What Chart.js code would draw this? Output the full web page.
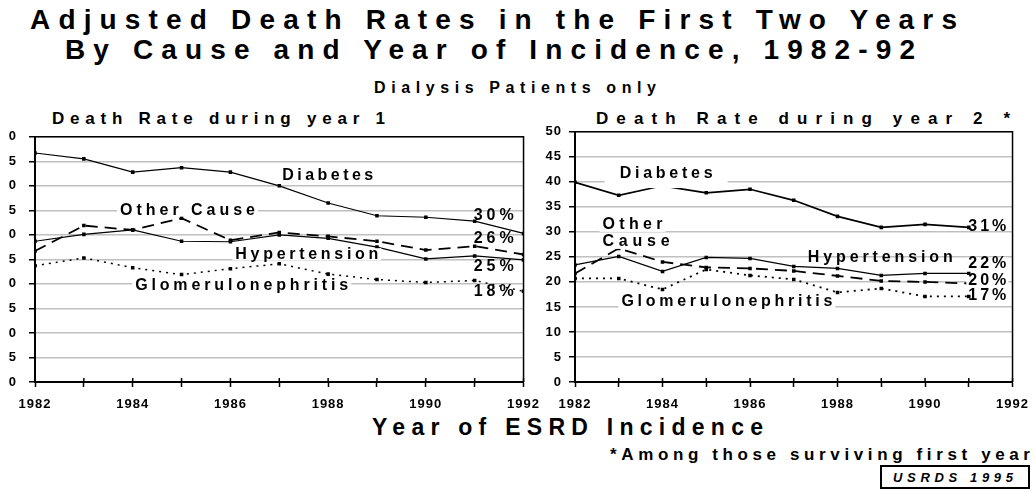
<!DOCTYPE html>
<html>
<head>
<meta charset="utf-8">
<script src="https://cdn.jsdelivr.net/npm/chart.js@4.4.1/dist/chart.umd.min.js"></script>
<style>
  body { margin: 0; width: 1035px; height: 491px; background: #fff; position: relative; overflow: hidden;
         font-family: "Liberation Sans", Arial, sans-serif; font-weight: bold; color: #000; }
  .t { position: absolute; white-space: nowrap; line-height: 1; }
  .cv { position: absolute; }
  #src { position: absolute; left: 880px; top: 465px; width: 146px; height: 20px; border: 2px solid #000; }
</style>
</head>
<body>
<div class="t" data-l="30" data-r="957" style="top:6px;font-size:28px">Adjusted Death Rates in the First Two Years</div>
<div class="t" data-l="65" data-r="915" style="top:36px;font-size:28px">By Cause and Year of Incidence, 1982-92</div>
<div class="t" data-l="374" data-r="656" style="top:80px;font-size:16px">Dialysis Patients only</div>
<div class="t" data-l="52" data-r="385" style="top:110px;font-size:17px">Death Rate during year 1</div>
<div class="t" data-l="596" data-r="1010" style="top:110px;font-size:17px">Death Rate during year 2 *</div>
<div class="t" data-l="372" data-r="763" style="top:416px;font-size:23px">Year of ESRD Incidence</div>
<div class="t" data-l="610" data-r="1030" style="top:446px;font-size:17px">*Among those surviving first year</div>
<div id="src"></div>
<div class="t" data-l="893" data-r="1013" style="top:471px;font-size:13px;font-style:italic">USRDS 1995</div>

<div class="cv" style="left:9px;top:117px;width:539px;height:305px"><canvas id="year1"></canvas></div>
<div class="cv" style="left:535px;top:117px;width:502px;height:305px"><canvas id="year2"></canvas></div>

<script>
// Años de incidencia y etiquetas del eje X
const years1 = [1982, 1983, 1984, 1985, 1986, 1987, 1988, 1989, 1990, 1991, 1992];
const years2 = [1982, 1983, 1984, 1985, 1986, 1987, 1988, 1989, 1990, 1991];
const xTickLabels = ['1982', '1984', '1986', '1988', '1990', '1992'];
const yTicks = [0, 5, 10, 15, 20, 25, 30, 35, 40, 45, 50];

// Tasa de muerte durante el año 1
const diabetes1 = [46.7, 45.5, 42.8, 43.7, 42.8, 40.0, 36.5, 33.9, 33.6, 32.8, 30.3];
const otherCause1 = [26.7, 31.9, 31.0, 33.4, 28.9, 30.5, 29.7, 28.7, 26.9, 27.7, 26.0];
const hypertension1 = [28.7, 30.1, 31.0, 28.7, 28.6, 30.0, 29.3, 27.5, 25.1, 25.7, 24.9];
const glomerulo1 = [23.7, 25.3, 23.3, 21.9, 23.1, 24.1, 22.0, 20.9, 20.3, 20.7, 18.5];

// Tasa de muerte durante el año 2 (entre los que sobreviven el primer año)
const diabetes2 = [39.9, 37.3, 39.2, 37.8, 38.5, 36.3, 33.1, 30.9, 31.5, 30.9];
const otherCause2 = [21.7, 26.7, 24.0, 22.9, 22.7, 22.2, 21.2, 20.2, 20.0, 19.7];
const hypertension2 = [23.4, 25.1, 22.1, 24.9, 24.7, 23.1, 22.7, 21.3, 21.7, 21.7];
const glomerulo2 = [20.7, 20.7, 18.5, 22.5, 21.3, 20.5, 17.9, 18.7, 17.1, 17.1];

// Ajusta el espaciado entre letras para que cada texto ocupe su ancho
document.querySelectorAll('.t').forEach(el => {
    const l = +el.dataset.l, r = +el.dataset.r;
    const w = el.getBoundingClientRect().width;
    const n = el.textContent.length;
    el.style.letterSpacing = ((r - l - w) / (n - 1)) + 'px';
    el.style.left = l + 'px';
});

function serie(years, values, style) {
    return Object.assign({
        data: years.map((y, i) => ({ x: y, y: values[i] })),
        borderColor: '#000',
        backgroundColor: '#000',
        pointBackgroundColor: '#000',
        pointStyle: 'rect',
        pointRadius: 2.5,
        pointBorderWidth: 0,
        fill: false,
        tension: 0
    }, style);
}

// Marco, marcas del eje y rótulos de las series
const decor = {
    id: 'decor',
    beforeDraw(chart) {
        chart.ctx.letterSpacing = '1px';
    },
    beforeDatasetsDraw(chart) {
        const { ctx, chartArea: a, scales } = chart;
        ctx.save();
        ctx.strokeStyle = '#000';
        ctx.lineWidth = 1.5;
        ctx.beginPath();
        ctx.moveTo(a.left, a.top);
        ctx.lineTo(a.right, a.top);
        ctx.lineTo(a.right, a.bottom);
        ctx.stroke();
        ctx.beginPath();
        scales.x.ticks.forEach(t => {
            const px = scales.x.getPixelForValue(t.value);
            ctx.moveTo(px, a.bottom - 4);
            ctx.lineTo(px, a.bottom);
        });
        ctx.stroke();
        ctx.restore();
    },
    afterDatasetsDraw(chart, args, opts) {
        const { ctx, scales } = chart;
        ctx.save();
        ctx.font = 'bold 16px "Liberation Sans", Arial, sans-serif';
        ctx.textBaseline = 'middle';
        ctx.textAlign = 'left';
        (opts.labels || []).forEach(lb => {
            ctx.letterSpacing = '0px';
            const w0 = ctx.measureText(lb.text).width;
            const sp = (lb.w - w0) / (lb.text.length - 1);
            const x = scales.x.getPixelForValue(lb.x);
            const y = scales.y.getPixelForValue(lb.y);
            if (lb.bg) {
                ctx.fillStyle = '#fff';
                ctx.fillRect(x - lb.bg[0], y - lb.bg[1], lb.w + 2 * lb.bg[0], lb.bg[1] + (lb.bg[2] || lb.bg[1]));
            }
            ctx.letterSpacing = sp + 'px';
            ctx.fillStyle = '#000';
            ctx.fillText(lb.text, x, y);
        });
        ctx.restore();
    }
};

function makeChart(id, sets, yWidth, yPad, labels) {
    return new Chart(document.getElementById(id), {
        type: 'line',
        data: { datasets: sets },
        options: {
            responsive: true,
            maintainAspectRatio: false,
            animation: false,
            layout: { padding: { top: 5, right: 20, left: 0, bottom: 0 } },
            plugins: {
                legend: { display: false },
                tooltip: { enabled: false },
                decor: { labels: labels }
            },
            scales: {
                x: {
                    type: 'linear',
                    min: 1982,
                    max: 1992,
                    afterBuildTicks: s => { s.ticks = years1.map(v => ({ value: v })); },
                    afterFit: s => { s.height = 40; },
                    ticks: {
                        autoSkip: false,
                        maxRotation: 0,
                        padding: 10,
                        color: '#000',
                        font: { family: '"Liberation Sans", Arial, sans-serif', size: 13, weight: 'bold' },
                        callback: v => xTickLabels.includes(String(v)) ? String(v) : ''
                    },
                    grid: { drawOnChartArea: false, tickLength: 5, tickColor: '#000', tickWidth: 1.5 },
                    border: { color: '#000', width: 2 }
                },
                y: {
                    min: 0,
                    max: 50,
                    afterBuildTicks: s => { s.ticks = yTicks.map(v => ({ value: v })); },
                    afterFit: s => { s.width = yWidth; },
                    ticks: {
                        padding: yPad,
                        color: '#000',
                        font: { family: '"Liberation Sans", Arial, sans-serif', size: 13, weight: 'bold' }
                    },
                    grid: { color: '#c0c0c0', lineWidth: 1.5, tickLength: 6, tickColor: '#000', tickWidth: 1.5 },
                    border: { color: '#000', width: 2 }
                }
            }
        },
        plugins: [decor]
    });
}

makeChart('year1', [
    serie(years1, diabetes1, { borderWidth: 1.2 }),
    serie(years1, otherCause1, { borderWidth: 1.8, borderDash: [12, 7] }),
    serie(years1, hypertension1, { borderWidth: 1.2 }),
    serie(years1, glomerulo1, { borderWidth: 1.5, borderDash: [2, 5] })
], 26, 12, [
    { text: 'Diabetes', x: 1987.06, y: 42, w: 91, bg: [3, 6] },
    { text: 'Other Cause', x: 1983.74, y: 35, w: 135, bg: [3, 6] },
    { text: 'Hypertension', x: 1986.1, y: 26.06, w: 143, bg: [3, 6] },
    { text: 'Glomerulonephritis', x: 1984.05, y: 19.66, w: 213, bg: [3, 6] },
    { text: '30%', x: 1990.98, y: 34, w: 40 },
    { text: '26%', x: 1990.98, y: 29.2, w: 40 },
    { text: '25%', x: 1990.98, y: 23.6, w: 40 },
    { text: '18%', x: 1990.98, y: 18.34, w: 40 }
]);

makeChart('year2', [
    serie(years2, diabetes2, { borderWidth: 1.6 }),
    serie(years2, otherCause2, { borderWidth: 1.8, borderDash: [12, 7] }),
    serie(years2, hypertension2, { borderWidth: 1.2 }),
    serie(years2, glomerulo2, { borderWidth: 1.8, borderDash: [2, 5] })
], 40, 7, [
    { text: 'Diabetes', x: 1983.02, y: 41.66, w: 93, bg: [15, 15, 14.5] },
    { text: 'Other', x: 1982.63, y: 31.4, w: 60, bg: [3, 7] },
    { text: 'Cause', x: 1982.63, y: 28, w: 67, bg: [3, 7] },
    { text: 'Hypertension', x: 1987.32, y: 24.86, w: 145 },
    { text: 'Glomerulonephritis', x: 1983.06, y: 16, w: 211, bg: [3, 6] },
    { text: '31%', x: 1990.99, y: 31.06, w: 38 },
    { text: '22%', x: 1990.99, y: 23.66, w: 38, bg: [2, 6] },
    { text: '20%', x: 1990.99, y: 20.2, w: 38, bg: [2, 6] },
    { text: '17%', x: 1990.99, y: 17.2, w: 38 }
]);
</script>
</body>
</html>
